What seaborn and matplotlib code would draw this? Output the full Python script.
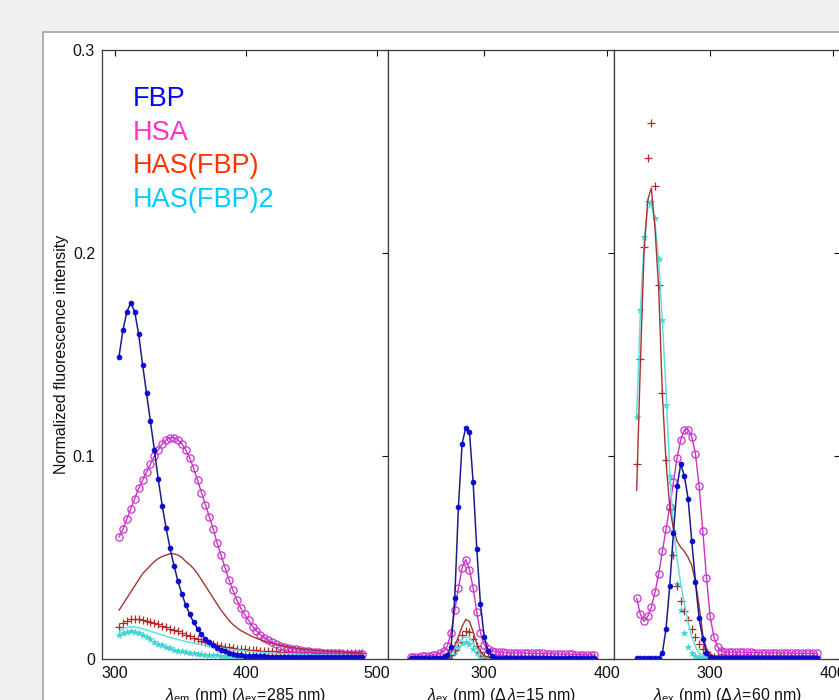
import numpy as np
import matplotlib
matplotlib.use("Agg")
import matplotlib.pyplot as plt
import seaborn as sns
from matplotlib.patches import Rectangle

# Panel 1: emission spectra (lambda_ex = 285 nm)
wl_em = np.arange(303, 490, 3)
fbp_em = [0.149, 0.162, 0.171, 0.1755, 0.171, 0.160, 0.145, 0.131, 0.117, 0.103,
          0.0885, 0.0755, 0.0644, 0.0545, 0.046, 0.0384, 0.0319, 0.0266, 0.022, 0.018,
          0.0150, 0.0122, 0.0100, 0.0082, 0.0067, 0.0055, 0.0045, 0.0037, 0.0031, 0.0026,
          0.0022, 0.0019, 0.0017, 0.0015, 0.0014, 0.0014, 0.0013, 0.0013, 0.0012, 0.0012,
          0.0012, 0.0011, 0.0011, 0.0011, 0.0011, 0.0010, 0.0010, 0.0010, 0.0010, 0.0010,
          0.0010, 0.0010, 0.0010, 0.0010, 0.0010, 0.0010, 0.0010, 0.0010, 0.0010, 0.0010,
          0.0010, 0.0010, 0.0010]
hsa_em = [0.060, 0.064, 0.069, 0.074, 0.079, 0.084, 0.088, 0.092, 0.096, 0.100,
          0.103, 0.106, 0.108, 0.109, 0.109, 0.108, 0.106, 0.103, 0.099, 0.094,
          0.088, 0.082, 0.076, 0.070, 0.064, 0.057, 0.051, 0.045, 0.039, 0.034,
          0.029, 0.025, 0.022, 0.019, 0.016, 0.014, 0.012, 0.0105, 0.0092, 0.0082,
          0.0073, 0.0066, 0.0060, 0.0055, 0.0051, 0.0047, 0.0044, 0.0041, 0.0038, 0.0036,
          0.0034, 0.0032, 0.0031, 0.0030, 0.0029, 0.0028, 0.0027, 0.0026, 0.0026, 0.0025,
          0.0025, 0.0024, 0.0024]
has_line_em = [0.024, 0.027, 0.030, 0.033, 0.036, 0.039, 0.042, 0.044, 0.046, 0.048,
               0.0495, 0.0505, 0.0512, 0.0518, 0.0518, 0.0512, 0.050, 0.048, 0.0465, 0.0445,
               0.042, 0.039, 0.036, 0.033, 0.030, 0.027, 0.024, 0.0215, 0.019, 0.017,
               0.0155, 0.014, 0.013, 0.012, 0.011, 0.0102, 0.0095, 0.0088, 0.0082, 0.0077,
               0.0072, 0.0068, 0.0064, 0.0060, 0.0057, 0.0054, 0.0051, 0.0049, 0.0047, 0.0045,
               0.0043, 0.0041, 0.0040, 0.0038, 0.0037, 0.0036, 0.0035, 0.0034, 0.0033, 0.0032,
               0.0031, 0.0031, 0.0030]
has_plus_em = [0.016, 0.0175, 0.0188, 0.0195, 0.0197, 0.0196, 0.0193, 0.0188, 0.0182, 0.0176,
               0.0170, 0.0164, 0.0157, 0.0150, 0.0143, 0.0136, 0.0128, 0.0120, 0.0112, 0.0104,
               0.0097, 0.0090, 0.0084, 0.0078, 0.0073, 0.0068, 0.0064, 0.0060, 0.0057, 0.0054,
               0.0051, 0.0049, 0.0047, 0.0045, 0.0043, 0.0042, 0.0041, 0.0040, 0.0039, 0.0038,
               0.0037, 0.0036, 0.0035, 0.0035, 0.0034, 0.0034, 0.0033, 0.0033, 0.0032, 0.0032,
               0.0031, 0.0031, 0.0031, 0.0030, 0.0030, 0.0030, 0.0029, 0.0029, 0.0029, 0.0028,
               0.0028, 0.0028, 0.0028]
has2_line_em = [0.0135, 0.0148, 0.0156, 0.0159, 0.0158, 0.0154, 0.0149, 0.0143, 0.0137, 0.0130,
                0.0124, 0.0118, 0.0112, 0.0106, 0.0101, 0.0096, 0.0091, 0.0086, 0.0082, 0.0078,
                0.0074, 0.0070, 0.0066, 0.0063, 0.0060, 0.0057, 0.0054, 0.0051, 0.0048, 0.0046,
                0.0044, 0.0042, 0.0040, 0.0038, 0.0036, 0.0034, 0.0033, 0.0031, 0.0030, 0.0029,
                0.0028, 0.0027, 0.0026, 0.0025, 0.0024, 0.0024, 0.0023, 0.0022, 0.0022, 0.0021,
                0.0021, 0.0020, 0.0020, 0.0019, 0.0019, 0.0019, 0.0018, 0.0018, 0.0018, 0.0017,
                0.0017, 0.0017, 0.0017]
has2_star_em = [0.0118, 0.0128, 0.0134, 0.0136, 0.0133, 0.0126, 0.0117, 0.0107, 0.0096, 0.0086,
                0.0076, 0.0067, 0.0059, 0.0052, 0.0046, 0.0041, 0.0037, 0.0033, 0.0030, 0.0027,
                0.0025, 0.0023, 0.0021, 0.0020, 0.0019, 0.0018, 0.0017, 0.0016, 0.0016, 0.0016,
                0.0015, 0.0015, 0.0015, 0.0015, 0.0014, 0.0014, 0.0014, 0.0014, 0.0014, 0.0013,
                0.0013, 0.0013, 0.0013, 0.0013, 0.0013, 0.0013, 0.0013, 0.0012, 0.0012, 0.0012,
                0.0012, 0.0012, 0.0012, 0.0012, 0.0012, 0.0012, 0.0012, 0.0012, 0.0012, 0.0012,
                0.0012, 0.0012, 0.0012]

# Panel 2: synchronous spectra, delta lambda = 15 nm
wl_s15 = np.arange(240, 391, 3)
fbp_s15 = [0.0005, 0.0005, 0.0005, 0.0005, 0.0005, 0.0005, 0.0005, 0.0005, 0.0005, 0.0008,
           0.002, 0.006, 0.030, 0.075, 0.106, 0.114, 0.112, 0.087, 0.054, 0.027,
           0.011, 0.004, 0.0015, 0.0006, 0.0006, 0.0006, 0.0006, 0.0006, 0.0006, 0.0006,
           0.0006, 0.0006, 0.0006, 0.0006, 0.0006, 0.0006, 0.0006, 0.0006, 0.0006, 0.0006,
           0.0006, 0.0006, 0.0006, 0.0006, 0.0006, 0.0006, 0.0006, 0.0006, 0.0006, 0.0006,
           0.0006]
hsa_s15 = [0.0012, 0.0012, 0.0012, 0.0013, 0.0014, 0.0015, 0.0018, 0.0022, 0.0028, 0.0040,
           0.0065, 0.013, 0.024, 0.035, 0.045, 0.049, 0.044, 0.035, 0.023, 0.013,
           0.007, 0.005, 0.004, 0.0036, 0.0034, 0.0032, 0.0031, 0.0030, 0.0030, 0.0030,
           0.0030, 0.0029, 0.0029, 0.0028, 0.0028, 0.0027, 0.0027, 0.0026, 0.0026, 0.0025,
           0.0025, 0.0024, 0.0024, 0.0023, 0.0023, 0.0022, 0.0022, 0.0021, 0.0021, 0.0020,
           0.0020]
has_line_s15 = [0.0004, 0.0004, 0.0004, 0.0004, 0.0004, 0.0004, 0.0004, 0.0004, 0.0004, 0.0008,
                0.0018, 0.0035, 0.0065, 0.011, 0.016, 0.0195, 0.0185, 0.0135, 0.0075, 0.0035,
                0.0015, 0.0009, 0.0007, 0.0007, 0.0007, 0.0007, 0.0007, 0.0007, 0.0007, 0.0007,
                0.0007, 0.0007, 0.0007, 0.0007, 0.0007, 0.0007, 0.0007, 0.0007, 0.0007, 0.0007,
                0.0007, 0.0007, 0.0007, 0.0007, 0.0007, 0.0007, 0.0007, 0.0007, 0.0007, 0.0007,
                0.0007]
has_plus_s15 = [0.0005, 0.0005, 0.0005, 0.0005, 0.0005, 0.0005, 0.0005, 0.0005, 0.0005, 0.0005,
                0.0005, 0.002, 0.0045, 0.0085, 0.012, 0.014, 0.0135, 0.010, 0.0065, 0.0035,
                0.0015, 0.0008, 0.0005, 0.0005, 0.0005, 0.0005, 0.0005, 0.0005, 0.0005, 0.0005,
                0.0005, 0.0005, 0.0005, 0.0005, 0.0005, 0.0005, 0.0005, 0.0005, 0.0005, 0.0005,
                0.0005, 0.0005, 0.0005, 0.0005, 0.0005, 0.0005, 0.0005, 0.0005, 0.0005, 0.0005,
                0.0005]
has2_line_s15 = [0.0004, 0.0004, 0.0004, 0.0004, 0.0004, 0.0004, 0.0004, 0.0004, 0.0004, 0.0004,
                 0.001, 0.0025, 0.005, 0.008, 0.010, 0.011, 0.0105, 0.008, 0.005, 0.0025,
                 0.001, 0.0004, 0.0004, 0.0004, 0.0004, 0.0004, 0.0004, 0.0004, 0.0004, 0.0004,
                 0.0004, 0.0004, 0.0004, 0.0004, 0.0004, 0.0004, 0.0004, 0.0004, 0.0004, 0.0004,
                 0.0004, 0.0004, 0.0004, 0.0004, 0.0004, 0.0004, 0.0004, 0.0004, 0.0004, 0.0004,
                 0.0004]
has2_star_s15 = [0.0003, 0.0003, 0.0003, 0.0003, 0.0003, 0.0003, 0.0003, 0.0003, 0.0003, 0.0003,
                 0.0003, 0.0015, 0.0035, 0.006, 0.008, 0.0085, 0.0075, 0.005, 0.003, 0.0012,
                 0.0005, 0.0003, 0.0003, 0.0003, 0.0003, 0.0003, 0.0003, 0.0003, 0.0003, 0.0003,
                 0.0003, 0.0003, 0.0003, 0.0003, 0.0003, 0.0003, 0.0003, 0.0003, 0.0003, 0.0003,
                 0.0003, 0.0003, 0.0003, 0.0003, 0.0003, 0.0003, 0.0003, 0.0003, 0.0003, 0.0003,
                 0.0003]

# Panel 3: synchronous spectra, delta lambda = 60 nm
wl_s60 = np.arange(240, 388, 3)
fbp_s60 = [0.0004, 0.0004, 0.0004, 0.0004, 0.0004, 0.0004, 0.0004, 0.003, 0.015, 0.036,
           0.062, 0.085, 0.096, 0.090, 0.079, 0.058, 0.038, 0.020, 0.010, 0.003,
           0.001, 0.0004, 0.0004, 0.0004, 0.0004, 0.0004, 0.0004, 0.0004, 0.0004, 0.0004,
           0.0004, 0.0004, 0.0004, 0.0004, 0.0004, 0.0004, 0.0004, 0.0004, 0.0004, 0.0004,
           0.0004, 0.0004, 0.0004, 0.0004, 0.0004, 0.0004, 0.0004, 0.0004, 0.0004, 0.0004]
hsa_s60 = [0.030, 0.022, 0.0185, 0.021, 0.0255, 0.033, 0.042, 0.053, 0.064, 0.075,
           0.087, 0.099, 0.108, 0.113, 0.113, 0.1095, 0.101, 0.085, 0.063, 0.040,
           0.021, 0.011, 0.006, 0.004, 0.0034, 0.0034, 0.0033, 0.0033, 0.0033, 0.0032,
           0.0032, 0.0032, 0.0031, 0.0031, 0.0031, 0.0030, 0.0030, 0.0030, 0.0030, 0.0029,
           0.0029, 0.0029, 0.0029, 0.0029, 0.0028, 0.0028, 0.0028, 0.0028, 0.0028, 0.0028]
has_line_s60 = [0.083, 0.145, 0.200, 0.226, 0.232, 0.212, 0.182, 0.130, 0.097, 0.075,
                0.064, 0.058, 0.055, 0.053, 0.050, 0.046, 0.038, 0.026, 0.012, 0.005,
                0.0025, 0.0015, 0.0015, 0.0015, 0.0015, 0.0015, 0.0015, 0.0015, 0.0015, 0.0015,
                0.0015, 0.0015, 0.0015, 0.0015, 0.0015, 0.0015, 0.0015, 0.0015, 0.0015, 0.0015,
                0.0015, 0.0015, 0.0015, 0.0015, 0.0015, 0.0015, 0.0015, 0.0015, 0.0015, 0.0015]
has_plus_s60 = [0.096, 0.148, 0.203, 0.247, 0.264, 0.233, 0.184, 0.131, 0.098, 0.074,
                0.051, 0.036, 0.0286, 0.0236, 0.019, 0.0148, 0.011, 0.0075, 0.005, 0.003,
                0.002, 0.0012, 0.0012, 0.0012, 0.0012, 0.0012, 0.0012, 0.0012, 0.0012, 0.0012,
                0.0012, 0.0012, 0.0012, 0.0012, 0.0012, 0.0012, 0.0012, 0.0012, 0.0012, 0.0012,
                0.0012, 0.0012, 0.0012, 0.0012, 0.0012, 0.0012, 0.0012, 0.0012, 0.0012, 0.0012]
has2_line_s60 = [0.120, 0.170, 0.205, 0.222, 0.224, 0.215, 0.196, 0.166, 0.132, 0.092,
                 0.065, 0.049, 0.037, 0.027, 0.018, 0.011, 0.006, 0.003, 0.0015, 0.0008,
                 0.0008, 0.0008, 0.0008, 0.0008, 0.0008, 0.0008, 0.0008, 0.0008, 0.0008, 0.0008,
                 0.0008, 0.0008, 0.0008, 0.0008, 0.0008, 0.0008, 0.0008, 0.0008, 0.0008, 0.0008,
                 0.0008, 0.0008, 0.0008, 0.0008, 0.0008, 0.0008, 0.0008, 0.0008, 0.0008, 0.0008]
has2_star_s60 = [0.119, 0.172, 0.208, 0.225, 0.225, 0.217, 0.197, 0.167, 0.125, 0.090,
                 0.063, 0.037, 0.024, 0.013, 0.006, 0.003, 0.0015, 0.0008, 0.0008, 0.0008,
                 0.0008, 0.0008, 0.0008, 0.0008, 0.0008, 0.0008, 0.0008, 0.0008, 0.0008, 0.0008,
                 0.0008, 0.0008, 0.0008, 0.0008, 0.0008, 0.0008, 0.0008, 0.0008, 0.0008, 0.0008,
                 0.0008, 0.0008, 0.0008, 0.0008, 0.0008, 0.0008, 0.0008, 0.0008, 0.0008, 0.0008]

legend_names = ["FBP", "HSA", "HAS(FBP)", "HAS(FBP)2"]
legend_colors = ["#0000ff", "#ff33cc", "#ff3300", "#00ccff"]

y_ticks = [0, 0.1, 0.2, 0.3]
y_tick_labels = ["0", "0.1", "0.2", "0.3"]


def draw_panel(ax, x, fbp, hsa, has_line, has_plus, has2_line, has2_star):
    """Draw the six spectra of one panel."""
    sns.lineplot(x=x, y=hsa, ax=ax, color="#c832c8", linewidth=1.0, marker="o",
                 markersize=5.2, markerfacecolor="none", markeredgecolor="#cc33cc",
                 markeredgewidth=0.9)
    sns.lineplot(x=x, y=has2_line, ax=ax, color="#5fe0e0", linewidth=1.1)
    sns.scatterplot(x=x, y=has2_star, ax=ax, color="#3cd2d2", marker="*", s=26,
                    linewidth=0.3, edgecolor="#3cd2d2")
    sns.lineplot(x=x, y=has_line, ax=ax, color="#a83232", linewidth=1.0)
    sns.scatterplot(x=x, y=has_plus, ax=ax, color="#b02a2a", marker="+", s=28,
                    linewidth=0.9)
    sns.lineplot(x=x, y=fbp, ax=ax, color="#1c1c88", linewidth=1.1, marker="o",
                 markersize=3.3, markerfacecolor="#0a0ad2", markeredgecolor="#0a0ad2")


def style_axis(ax, xlim, xticks, xlabel, show_ylabels):
    ax.set_xlim(*xlim)
    ax.set_ylim(0, 0.3)
    ax.set_xticks(xticks)
    ax.set_xticklabels([str(t) for t in xticks])
    ax.set_yticks(y_ticks)
    if show_ylabels:
        ax.set_yticklabels(y_tick_labels)
    else:
        ax.set_yticklabels([])
    ax.tick_params(direction="in", top=True, right=True, length=4, width=0.8,
                   labelsize=11.5, colors="#111111", pad=5)
    for side in ax.spines.values():
        side.set_color("#3a3a3a")
        side.set_linewidth(0.9)
    ax.set_xlabel(xlabel, fontsize=11.5, labelpad=4, color="#111111")
    ax.set_ylabel("")


sns.set_theme(style="white")
plt.rcParams["font.family"] = ["Liberation Sans", "DejaVu Sans"]
plt.rcParams["mathtext.fontset"] = "custom"
plt.rcParams["mathtext.rm"] = "Liberation Sans"
plt.rcParams["mathtext.it"] = "Liberation Sans:italic"

fig = plt.figure(figsize=(8.39, 7.0), dpi=100, facecolor="#f0f0f0")
fig.patches.append(Rectangle((43 / 839, -0.05), 1.0, (700 - 32) / 700 + 0.05,
                             transform=fig.transFigure, facecolor="white",
                             edgecolor="#a9a9a9", linewidth=1.3, zorder=-1))

bottom, height = 0.0586, 0.870
ax1 = fig.add_axes([102 / 839, bottom, 286 / 839, height])
ax2 = fig.add_axes([388 / 839, bottom, 226 / 839, height])
ax3 = fig.add_axes([614 / 839, bottom, 226 / 839, height])

draw_panel(ax1, wl_em, fbp_em, hsa_em, has_line_em, has_plus_em, has2_line_em, has2_star_em)
draw_panel(ax2, wl_s15, fbp_s15, hsa_s15, has_line_s15, has_plus_s15, has2_line_s15, has2_star_s15)
draw_panel(ax3, wl_s60, fbp_s60, hsa_s60, has_line_s60, has_plus_s60, has2_line_s60, has2_star_s60)

style_axis(ax1, (290, 508.5), [300, 400, 500],
           r"$\lambda_{\rm em}$ (nm) ($\lambda_{\rm ex}$=285 nm)", True)
style_axis(ax2, (221.5, 406), [300, 400],
           r"$\lambda_{\rm ex}$ (nm) ($\Delta\,\lambda$=15 nm)", False)
style_axis(ax3, (221.5, 406), [300, 400],
           r"$\lambda_{\rm ex}$ (nm) ($\Delta\,\lambda$=60 nm)", False)
ax1.set_ylabel("Normalized fluorescence intensity", fontsize=11.5, labelpad=3,
               color="#111111")

# coloured names used as the legend
for i, (name, col) in enumerate(zip(legend_names, legend_colors)):
    ax1.text(0.108, 0.908 - i * 0.0553, name, color=col, fontsize=19.5,
             transform=ax1.transAxes, ha="left", va="baseline")

fig.savefig("out.png", dpi=100, facecolor=fig.get_facecolor())
